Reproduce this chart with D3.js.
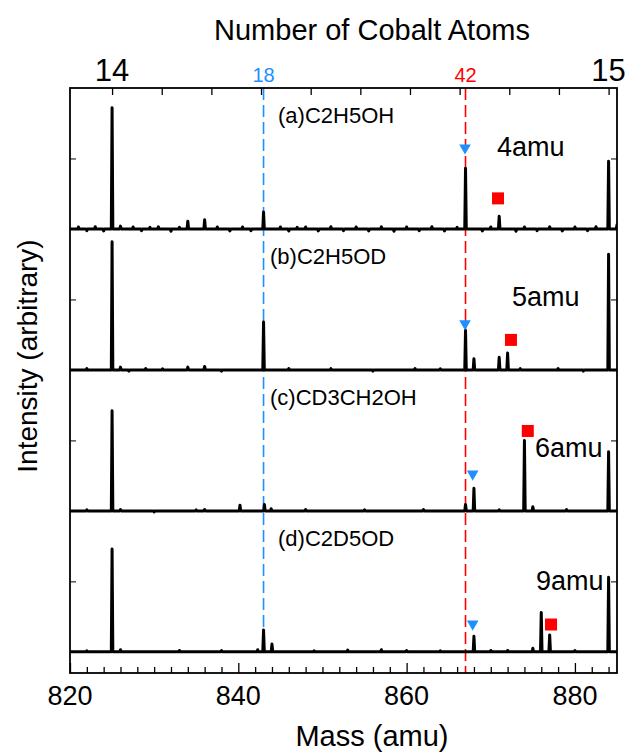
<!DOCTYPE html>
<html>
<head>
<meta charset="utf-8">
<script src="https://cdn.jsdelivr.net/npm/d3@7"></script>
<style>
  body { margin: 0; background: #fff; }
  text { font-family: "Liberation Sans", Arial, sans-serif; }
</style>
</head>
<body>
<svg id="chart"></svg>
<script>
const width = 629;
const height = 752;

// sample names, top to bottom, and their vertical offsets
const samples = ['(a)C2H5OH', '(b)C2H5OD', '(c)CD3CH2OH', '(d)C2D5OD'];
const offsets = [3, 2, 1, 0];
const shifts = ['4amu', '5amu', '6amu', '9amu'];

// peaks: [mass, intensity above own baseline]
const peaksA = [[825, 0.86], [826, 0.02], [834, 0.055], [836, 0.065], [843, 0.12], [867, 0.43], [871, 0.09], [884, 0.48], [885, 0.03]];
const peaksB = [[825, 0.91], [826, 0.02], [834, 0.02], [836, 0.025], [843, 0.34], [867, 0.28], [868, 0.08], [871, 0.09], [872, 0.12], [884, 0.82]];
const peaksC = [[825, 0.71], [826, 0.01], [836, 0.01], [840.2, 0.04], [843.1, 0.045], [843.9, 0.015], [867, 0.045], [868, 0.16], [874, 0.5], [875, 0.03], [884, 0.42]];
const peaksD = [[825, 0.73], [826, 0.015], [842.3, 0.015], [843, 0.155], [844, 0.055], [853, 0.012], [857, 0.015], [868, 0.11], [872, 0.01], [875, 0.025], [876, 0.28], [877, 0.12], [884, 0.53]];

// baseline wiggle: [mass, intensity]
const noiseA = [[821, 0.014], [822, -0.012], [823, 0.016], [824, -0.014], [827.5, 0.014], [828.5, -0.012], [829.5, 0.012], [830.5, 0.015], [832, -0.016], [833, 0.012], [837.5, 0.014], [839, -0.014], [840.5, 0.014], [841.5, -0.012], [845, 0.014], [846, -0.015], [847, 0.012], [848, 0.014], [849.5, -0.014], [851, 0.016], [852.5, -0.012], [854, 0.014], [855.5, -0.014], [857, 0.015], [858.5, -0.016], [860, 0.014], [861.5, -0.012], [863, 0.016], [864.5, -0.014], [866, 0.012], [869, -0.014], [870, 0.014], [873, -0.016], [874, 0.014], [875.5, -0.012], [877, 0.015], [878.5, -0.014], [880, 0.014], [881.5, -0.012], [882.5, 0.016]];
const noiseB = [[822, 0.01], [827, -0.008], [829, 0.01], [831, 0.008], [838, -0.008], [846, 0.01], [851, 0.009], [856, -0.008], [861, 0.01], [864, 0.008], [873.5, 0.009], [878, 0.01], [881, -0.008]];
const noiseC = [[822, 0.008], [830, -0.008], [835, 0.007], [848, 0.009], [855, 0.008], [862, 0.009], [871, 0.008], [879, 0.009]];
const noiseD = [[822, 0.008], [833, 0.01], [838, 0.009], [849, 0.008], [860, 0.009], [864, 0.008], [870, 0.01], [880, 0.009]];

const peakSets = [peaksA, peaksB, peaksC, peaksD];
const noiseSets = [noiseA, noiseB, noiseC, noiseD];

// markers: [mass, intensity on the shared offset axis]
const triangles = [[866.94, 3.575], [866.94, 2.328], [867.85, 1.262], [867.85, 0.198]];
const squares = [[870.86, 3.217], [872.4, 2.213], [874.4, 1.567], [877.16, 0.194]];

// reference lines and top axis
const refLines = [{mass: 843, label: '18', colour: '#1E8FFF', end: 0}, {mass: 867, label: '42', colour: '#FF0000', end: -0.15}];
const cobaltMass = [825, 884];
const cobaltLabels = ['14', '15'];
const massTicks = [820, 840, 860, 880];

const plotLeft = 70, plotRight = 617, plotTop = 88, plotBottom = 673;

const svg = d3.select('#chart')
    .attr('width', width)
    .attr('height', height);

const x = d3.scaleLinear().domain([820, 885]).range([plotLeft, plotRight]);
const y = d3.scaleLinear().domain([-0.15, 4]).range([plotBottom, plotTop]);
const cobalt = d3.scaleLinear().domain([14, 15]).range([x(cobaltMass[0]), x(cobaltMass[1])]);

// build each trace from its spikes
const halfWidth = 0.09;
const traces = peakSets.map((peaks, i) => {
  const spikes = peaks.concat(noiseSets[i]).sort((a, b) => a[0] - b[0]);
  const pts = [[820, 0]];
  spikes.forEach(([m, h]) => {
    pts.push([m - halfWidth, 0], [m, h], [m + halfWidth, 0]);
  });
  pts.push([885, 0]);
  return pts.map(([m, h]) => [m, h + offsets[i]]);
});

const line = d3.line().x(d => x(d[0])).y(d => y(d[1]));

svg.append('defs').append('clipPath').attr('id', 'plotclip')
  .append('rect').attr('x', plotLeft).attr('y', plotTop).attr('width', plotRight - plotLeft).attr('height', plotBottom - plotTop);

// dashed reference lines
refLines.forEach(r => {
  svg.append('line')
      .attr('x1', x(r.mass)).attr('x2', x(r.mass))
      .attr('y1', plotTop).attr('y2', y(r.end))
      .attr('stroke', r.colour)
      .attr('stroke-width', 1.6)
      .attr('stroke-dasharray', '12,5');
  svg.append('text')
      .text(r.label)
      .attr('x', x(r.mass))
      .attr('y', 82)
      .attr('text-anchor', 'middle')
      .attr('font-size', 20)
      .attr('fill', r.colour);
});

svg.append('g').attr('clip-path', 'url(#plotclip)')
  .selectAll('path')
  .data(traces)
  .enter()
  .append('path')
    .attr('d', line)
    .attr('fill', 'none')
    .attr('stroke', '#000')
    .attr('stroke-width', 3)
    .attr('stroke-linejoin', 'round');

// frame
svg.append('rect')
    .attr('x', plotLeft).attr('y', plotTop)
    .attr('width', plotRight - plotLeft).attr('height', plotBottom - plotTop)
    .attr('fill', 'none')
    .attr('stroke', '#000')
    .attr('stroke-width', 1.8);

// bottom axis, ticks inside
const bottomAxis = svg.append('g')
    .attr('transform', `translate(0,${plotBottom})`)
    .call(d3.axisTop(x).tickValues(d3.range(820, 886, 2)).tickSize(6).tickFormat(''));
bottomAxis.select('.domain').remove();
bottomAxis.selectAll('.tick line').attr('stroke-width', 1.3)
    .filter(d => d % 20 === 0).attr('y2', -10);

svg.selectAll('.masslabel')
  .data(massTicks)
  .enter()
  .append('text')
    .attr('class', 'masslabel')
    .text(d => d)
    .attr('x', x)
    .attr('y', 705)
    .attr('text-anchor', 'middle')
    .attr('font-size', 27);

// top axis, cobalt atoms
const topAxis = svg.append('g')
    .attr('transform', `translate(0,${plotTop})`)
    .call(d3.axisBottom(cobalt).tickValues(d3.range(14, 15.01, 0.1)).tickSize(7).tickFormat(''));
topAxis.select('.domain').remove();
topAxis.selectAll('.tick line').attr('stroke-width', 1.3);

svg.selectAll('.colabel')
  .data(cobaltLabels)
  .enter()
  .append('text')
    .attr('class', 'colabel')
    .text(d => d)
    .attr('x', d => cobalt(+d))
    .attr('y', 81)
    .attr('text-anchor', 'middle')
    .attr('font-size', 31);

// side ticks
const sideTicks = [0.5, 1.5, 2.5, 3.5];
const leftAxis = svg.append('g')
    .attr('transform', `translate(${plotLeft},0)`)
    .call(d3.axisRight(y).tickValues(sideTicks).tickSize(6).tickFormat(''));
leftAxis.select('.domain').remove();
const rightAxis = svg.append('g')
    .attr('transform', `translate(${plotRight},0)`)
    .call(d3.axisLeft(y).tickValues(sideTicks).tickSize(6).tickFormat(''));
rightAxis.select('.domain').remove();
svg.selectAll('.tick line').attr('stroke', '#000');

// sample labels and shift labels
samples.forEach((s, i) => {
  const base = y(offsets[i]);
  svg.append('text')
      .text(s)
      .attr('x', [278, 270, 270, 278][i])
      .attr('y', base - 106)
      .attr('font-size', 22);
  svg.append('text')
      .text(shifts[i])
      .attr('x', [497, 512, 535, 536][i])
      .attr('y', base - [73, 64, 54, 62][i])
      .attr('font-size', 27);
});

// markers
svg.selectAll('.tri')
  .data(triangles)
  .enter()
  .append('path')
    .attr('class', 'tri')
    .attr('d', d3.symbol().type(d3.symbolTriangle).size(58))
    .attr('transform', d => `translate(${x(d[0])},${y(d[1])}) rotate(180)`)
    .attr('fill', '#1E8FFF');

svg.selectAll('.sq')
  .data(squares)
  .enter()
  .append('rect')
    .attr('class', 'sq')
    .attr('x', d => x(d[0]) - 6)
    .attr('y', d => y(d[1]) - 6)
    .attr('width', 12)
    .attr('height', 12)
    .attr('fill', '#FF0000');

// axis titles
svg.append('text')
    .text('Number of Cobalt Atoms')
    .attr('x', 372).attr('y', 40)
    .attr('text-anchor', 'middle')
    .attr('font-size', 29);

svg.append('text')
    .text('Mass (amu)')
    .attr('x', 372).attr('y', 746)
    .attr('text-anchor', 'middle')
    .attr('font-size', 29);

svg.append('text')
    .text('Intensity (arbitrary)')
    .attr('transform', 'translate(37,356) rotate(-90)')
    .attr('text-anchor', 'middle')
    .attr('font-size', 28);
</script>
</body>
</html>
